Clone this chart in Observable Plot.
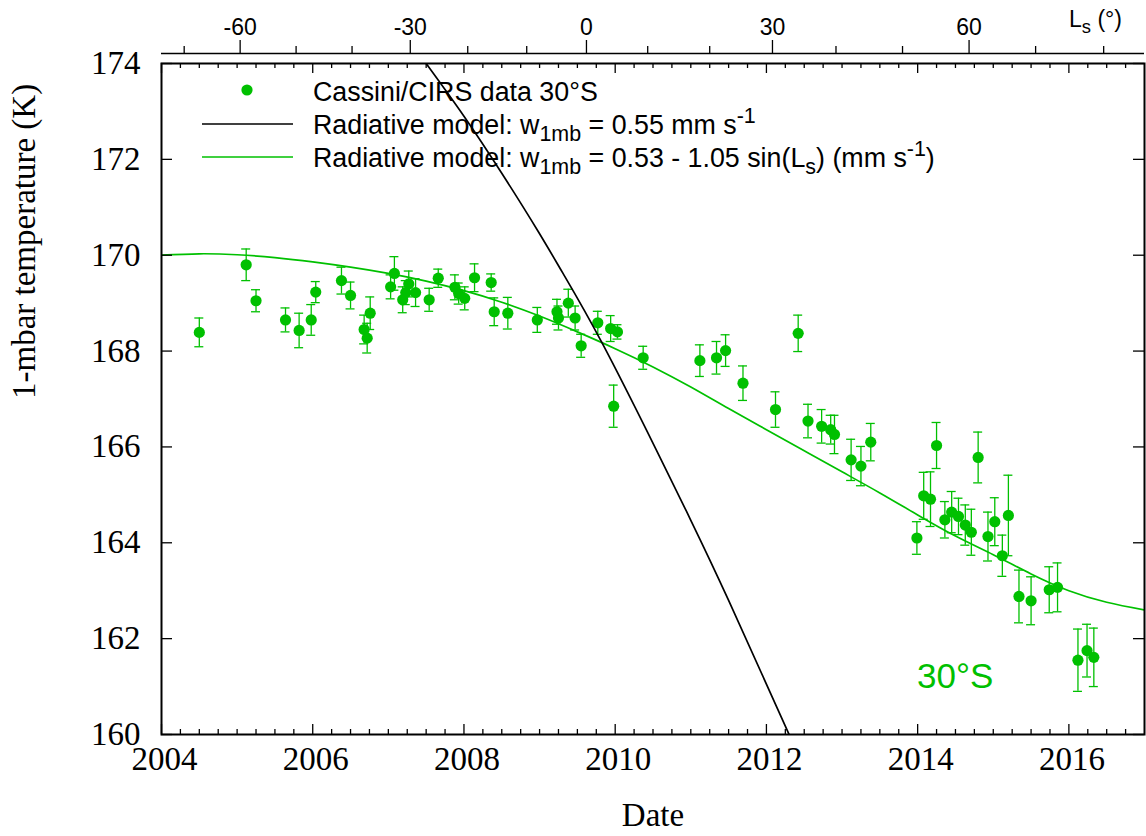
<!DOCTYPE html>
<html>
<head>
<meta charset="utf-8">
<script src="https://cdn.jsdelivr.net/npm/d3@7"></script>
<script src="https://cdn.jsdelivr.net/npm/@observablehq/plot@0.6"></script>
<style>
  html, body { margin: 0; padding: 0; background: #fff; }
  #chart svg { display: block; }
</style>
</head>
<body>
<div id="chart"></div>
<script>
// ---------- Data ----------
const obsYears = [2004.50, 2005.12, 2005.25, 2005.64, 2005.82, 2005.98, 2006.04, 2006.38, 2006.50, 2006.68,
  2006.72, 2006.76, 2007.03, 2007.08, 2007.19, 2007.23, 2007.27, 2007.36, 2007.54, 2007.66,
  2007.88, 2007.93, 2008.01, 2008.14, 2008.36, 2008.40, 2008.58, 2008.97, 2009.23, 2009.25,
  2009.38, 2009.47, 2009.55, 2009.77, 2009.94, 2009.98, 2010.03, 2010.37, 2011.12, 2011.34,
  2011.46, 2011.69, 2012.12, 2012.42, 2012.55, 2012.73, 2012.85, 2012.90, 2013.12, 2013.25,
  2013.38, 2013.99, 2014.08, 2014.17, 2014.25, 2014.36, 2014.45, 2014.54, 2014.63, 2014.71,
  2014.80, 2014.93, 2015.02, 2015.12, 2015.20, 2015.34, 2015.50, 2015.74, 2015.85, 2016.12,
  2016.24, 2016.33];
const obsTemps = [168.39, 169.80, 169.05, 168.65, 168.43, 168.65, 169.23, 169.47, 169.16, 168.45,
  168.27, 168.79, 169.34, 169.62, 169.07, 169.22, 169.40, 169.22, 169.07, 169.52,
  169.33, 169.20, 169.10, 169.53, 169.43, 168.82, 168.79, 168.65, 168.82, 168.69,
  169.00, 168.69, 168.11, 168.59, 168.47, 166.85, 168.40, 167.86, 167.80, 167.86,
  168.01, 167.33, 166.78, 168.37, 166.54, 166.43, 166.36, 166.26, 165.73, 165.60,
  166.10, 164.10, 164.98, 164.91, 166.03, 164.48, 164.64, 164.55, 164.37, 164.22,
  165.78, 164.13, 164.44, 163.73, 164.57, 162.88, 162.79, 163.02, 163.07, 161.55,
  161.75, 161.61];
const obsErrors = [0.30, 0.33, 0.23, 0.25, 0.36, 0.32, 0.22, 0.28, 0.28, 0.30,
  0.31, 0.34, 0.25, 0.35, 0.27, 0.25, 0.27, 0.29, 0.24, 0.19,
  0.26, 0.22, 0.24, 0.29, 0.18, 0.29, 0.33, 0.26, 0.26, 0.25,
  0.29, 0.25, 0.24, 0.24, 0.27, 0.44, 0.15, 0.24, 0.33, 0.34,
  0.33, 0.36, 0.37, 0.38, 0.35, 0.35, 0.30, 0.40, 0.43, 0.41,
  0.39, 0.34, 0.49, 0.57, 0.48, 0.38, 0.43, 0.38, 0.42, 0.48,
  0.53, 0.51, 0.50, 0.43, 0.84, 0.55, 0.50, 0.48, 0.51, 0.65,
  0.55, 0.61];

// Radiative model, w = 0.53 - 1.05 sin(Ls)  (green curve)
const varModelYears = [2004.0, 2004.5, 2005.0, 2005.5, 2006.0, 2006.5, 2007.0, 2007.5, 2008.0, 2008.5,
  2009.0, 2009.5, 2010.0, 2010.5, 2011.0, 2011.5, 2012.0, 2012.5, 2013.0, 2013.5,
  2014.0, 2014.5, 2015.0, 2015.5, 2016.0, 2016.5, 2017.0];
const varModelTemps = [170.00, 170.03, 170.01, 169.95, 169.86, 169.75, 169.62, 169.46, 169.26, 169.02,
  168.73, 168.40, 168.05, 167.67, 167.25, 166.80, 166.36, 165.92, 165.48, 165.04,
  164.58, 164.14, 163.75, 163.35, 163.00, 162.76, 162.60];

// Radiative model, w = 0.55 mm/s  (black curve)
const constModelYears = [2007.50, 2008.00, 2008.50, 2008.98, 2009.31, 2009.83, 2010.54, 2011.00, 2011.50, 2012.30];
const constModelTemps = [174.00, 172.90, 171.71, 170.50, 169.62, 168.16, 165.95, 164.47, 162.80, 160.00];

// Axis ticks
const dateMajorTicks = [2004, 2006, 2008, 2010, 2012, 2014, 2016];
const tempTicks = [160, 162, 164, 166, 168, 170, 172, 174];
const lsTickValues = [-70, -60, -50, -40, -30, -20, -10, 0, 10, 20, 30, 40, 50, 60, 70, 80];
const lsTickDates = [2004.30, 2005.04, 2005.78, 2006.52, 2007.29, 2008.05, 2008.83, 2009.62,
  2010.43, 2011.25, 2012.08, 2012.92, 2013.80, 2014.68, 2015.56, 2016.46];
const lsLabelled = [-60, -30, 0, 30, 60];

// Text
const xTitle = "Date";
const yTitle = "1-mbar temperature (K)";
const regionLabel = "30°S";
const legendRows = [
  [["Cassini/CIRS data 30°S", 0]],
  [["Radiative model: w", 0], ["1mb", 1], [" = 0.55 mm s", 0], ["-1", -1]],
  [["Radiative model: w", 0], ["1mb", 1], [" = 0.53 - 1.05 sin(L", 0], ["s", 1], [") (mm s", 0], ["-1", -1], [")", 0]]
];

// ---------- Build ----------
const green = "#00c000";
const sans = "'Liberation Sans', Arial, Helvetica, sans-serif";
const serif = "'Liberation Serif', 'Times New Roman', Times, serif";

const obs = obsYears.map((x, i) => ({x, y: obsTemps[i], e: obsErrors[i]}));
const varModel = varModelYears.map((x, i) => ({x, y: varModelTemps[i]}));
const constModel = constModelYears.map((x, i) => ({x, y: constModelTemps[i]}));
const dateMinorTicks = d3.range(0, 52).map(i => 2004 + i / 4).filter(d => !dateMajorTicks.includes(d));
const ls = lsTickValues.map((v, i) => ({v, x: lsTickDates[i]}));
const lsMajor = ls.filter(d => lsLabelled.includes(d.v));
const lsMinor = ls.filter(d => !lsLabelled.includes(d.v));

function richText(g, x, y, segs, size) {
  const t = g.append("text").attr("x", x).attr("y", y).attr("font-size", size).attr("text-anchor", "start");
  let cur = 0;
  for (const [s, mode] of segs) {
    const shift = mode === 1 ? size * 0.27 : mode === -1 ? -size * 0.38 : 0;
    t.append("tspan")
      .attr("dy", shift - cur)
      .attr("font-size", mode === 0 ? size : size * 0.8)
      .text(s);
    cur = shift;
  }
  return t;
}

function legendMark(index, scales, values, dims) {
  const g = d3.create("svg:g").attr("font-family", sans).attr("fill", "black").attr("text-anchor", "start");
  const x0 = dims.marginLeft;
  g.append("circle").attr("cx", x0 + 86).attr("cy", 90).attr("r", 5.6).attr("fill", green);
  g.append("line").attr("x1", x0 + 41).attr("x2", x0 + 132).attr("y1", 124).attr("y2", 124)
    .attr("stroke", "black").attr("stroke-width", 1.7);
  g.append("line").attr("x1", x0 + 41).attr("x2", x0 + 132).attr("y1", 157).attr("y2", 157)
    .attr("stroke", green).attr("stroke-width", 1.7);
  const baselines = [100.5, 133.5, 166.5];
  legendRows.forEach((row, i) => richText(g, x0 + 152, baselines[i], row, 26.8));
  // L_s axis title
  richText(g, 1069, 26.5, [["L", 0], ["s", 1], [" (°)", 0]], 23);
  return g.node();
}

const chart = Plot.plot({
  width: 1146,
  height: 836,
  marginTop: 63,
  marginBottom: 102,
  marginLeft: 161,
  marginRight: 2,
  x: {domain: [2004, 2017], axis: null},
  y: {domain: [160, 174], axis: null},
  style: {background: "white", overflow: "visible"},
  marks: [
    // error bars
    Plot.ruleX(obs, {x: "x", y1: d => d.y - d.e, y2: d => d.y + d.e, stroke: green, strokeWidth: 1.3}),
    Plot.ruleY(obs, {y: d => d.y - d.e, x1: "x", x2: "x", insetLeft: -4.5, insetRight: -4.5, stroke: green, strokeWidth: 1.3}),
    Plot.ruleY(obs, {y: d => d.y + d.e, x1: "x", x2: "x", insetLeft: -4.5, insetRight: -4.5, stroke: green, strokeWidth: 1.3}),
    Plot.dot(obs, {x: "x", y: "y", r: 5.6, fill: green}),
    // models
    Plot.line(varModel, {x: "x", y: "y", stroke: green, strokeWidth: 1.7, curve: "natural", clip: true}),
    Plot.line(constModel, {x: "x", y: "y", stroke: "black", strokeWidth: 1.7, curve: "natural", clip: true}),
    // frame
    Plot.frame({stroke: "black", strokeWidth: 2}),
    // inward ticks: bottom & top
    Plot.ruleX(dateMajorTicks, {x: d => d, y1: 160, y2: 160, insetTop: -10, stroke: "black", strokeWidth: 1.3}),
    Plot.ruleX(dateMinorTicks, {x: d => d, y1: 160, y2: 160, insetTop: -5, stroke: "black", strokeWidth: 1.3}),
    Plot.ruleX(dateMajorTicks, {x: d => d, y1: 174, y2: 174, insetBottom: -10, stroke: "black", strokeWidth: 1.3}),
    Plot.ruleX(dateMinorTicks, {x: d => d, y1: 174, y2: 174, insetBottom: -5, stroke: "black", strokeWidth: 1.3}),
    // inward ticks: left & right
    Plot.ruleY(tempTicks, {y: d => d, x1: 2004, x2: 2004, insetRight: -11, stroke: "black", strokeWidth: 1.3}),
    Plot.ruleY(tempTicks, {y: d => d, x1: 2017, x2: 2017, insetLeft: -11, stroke: "black", strokeWidth: 1.3}),
    // tick labels
    Plot.text(dateMajorTicks, {x: d => d, text: d => String(d), frameAnchor: "bottom", dy: 35.4, dx: 3,
      fontFamily: serif, fontSize: 33, fill: "black"}),
    Plot.text(tempTicks, {y: d => d, text: d => String(d), frameAnchor: "left", dx: -21, textAnchor: "end",
      fontFamily: serif, fontSize: 33, fill: "black"}),
    // axis titles
    Plot.text([xTitle], {frameAnchor: "bottom", dy: 91.4, fontFamily: serif, fontSize: 33, fill: "black"}),
    Plot.text([yTitle], {frameAnchor: "left", dx: -137, rotate: -90, fontFamily: serif, fontSize: 33, fill: "black"}),
    // top Ls axis
    Plot.ruleY([174], {dy: -10, stroke: "black", strokeWidth: 1.3}),
    Plot.ruleX(lsMajor, {x: "x", y1: 174, y2: 174, dy: -10, insetTop: -13, stroke: "black", strokeWidth: 1.3}),
    Plot.ruleX(lsMinor, {x: "x", y1: 174, y2: 174, dy: -10, insetTop: -7, stroke: "black", strokeWidth: 1.3}),
    Plot.text(lsMajor, {x: "x", text: d => String(d.v), frameAnchor: "top", dy: -44.4,
      fontFamily: sans, fontSize: 23, fill: "black"}),
    // region label
    Plot.text([regionLabel], {frameAnchor: "bottom-left", dx: 755.5, dy: -46.2, textAnchor: "start",
      fontFamily: sans, fontSize: 35, fill: green}),
    // legend + Ls title
    legendMark
  ]
});
document.getElementById("chart").append(chart);
</script>
</body>
</html>
